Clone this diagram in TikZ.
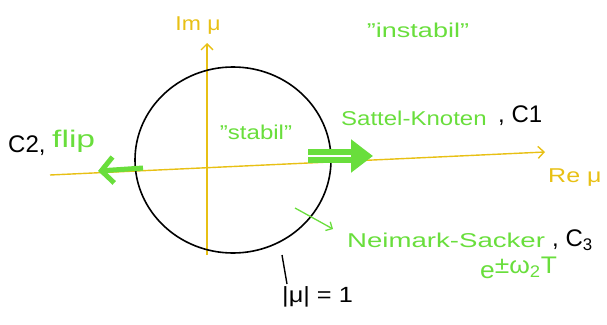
\documentclass[tikz,border=0pt]{standalone}
\usepackage{graphicx}
\usepackage{fontspec}
\setmainfont{Liberation Sans}
\usetikzlibrary{arrows.meta}
\definecolor{axisyellow}{RGB}{232,192,20}
\definecolor{hgreen}{RGB}{105,222,60}
\newcommand{\hsx}[2]{\scalebox{#1}[1]{#2}}
\tikzset{
  axis/.style={axisyellow, line width=1.4pt, -{Straight Barb[length=6pt,width=12pt]}},
  gtext/.style={text=hgreen, font=\fontsize{20}{22}\selectfont, inner sep=0pt},
  btext/.style={text=black, font=\fontsize{24}{26}\selectfont, inner sep=0pt},
  ytext/.style={text=axisyellow, font=\fontsize{20}{22}\selectfont, inner sep=0pt},
  unitcircle/.style={draw=black, line width=1.6pt},
  thinarrow/.style={hgreen, line width=1.3pt, -{Straight Barb[length=5pt,width=10pt]}},
}
\begin{document}
\begin{tikzpicture}[x=1pt,y=-1pt]
\useasboundingbox (0,0) rectangle (607,324);
% axes
\coordinate (xs) at (50,175);
\coordinate (xe) at (545,152);
\coordinate (ys) at (207,255);
\coordinate (ye) at (207,43);
\draw[axis] (xs) -- (xe);
\draw[axis] (ys) -- (ye);
\node[ytext, anchor=west] (re) at (548,178) {\hsx{1.25}{Re μ}};
\node[ytext] (im) at (198,26) {\hsx{1.15}{Im μ}};
% unit circle
\draw[unitcircle] (233,160) ellipse [x radius=98, y radius=93];
\coordinate (cb) at (282,255);
\coordinate (lb) at (287,284);
\draw[black, line width=1.4pt] (cb) -- (lb);
\node[btext, anchor=west, font=\fontsize{22}{24}\selectfont] (mu1) at (282,297) {\hsx{1.15}{|μ| = 1}};
% region labels
\node[gtext] (stab) at (256,132) {\hsx{1.2}{''stabil''}};
\node[gtext] (instab) at (418,30) {\hsx{1.35}{''instabil''}};
% Sattel-Knoten
\coordinate (sk1) at (308,156);
\coordinate (sk2) at (373,156);
\draw[hgreen, line width=6pt, double=white, double distance=2pt, -{Triangle[length=22pt,width=32pt]}] (sk1) -- (sk2);
\node[gtext, anchor=west] (sat) at (341,118) {\hsx{1.2}{Sattel-Knoten}};
\node[btext, anchor=west] (c1) at (498,116) {, C1};
% flip
\coordinate (fl1) at (143,168);
\coordinate (fl2) at (98,171);
\draw[hgreen, line width=5pt, -{Straight Barb[length=12pt,width=26pt]}] (fl1) -- (fl2);
\node[btext, anchor=west] (c2) at (8,146) {C2,};
\node[gtext, anchor=west, font=\fontsize{24}{26}\selectfont] (flip) at (52,141) {\hsx{1.4}{flip}};
% Neimark-Sacker
\coordinate (ns1) at (295,208);
\coordinate (ns2) at (333,229);
\draw[thinarrow] (ns1) -- (ns2);
\node[gtext, anchor=west] (neim) at (347,240) {\hsx{1.38}{Neimark-Sacker}};
\node[btext, anchor=west] (c3) at (552,240) {, C\textsubscript{3}};
\node[gtext, anchor=west, font=\fontsize{24}{26}\selectfont] (exp) at (480,268) {\hsx{1.1}{e\raisebox{5pt}{±ω\textsubscript{2}T}}};
\end{tikzpicture}
\end{document}
